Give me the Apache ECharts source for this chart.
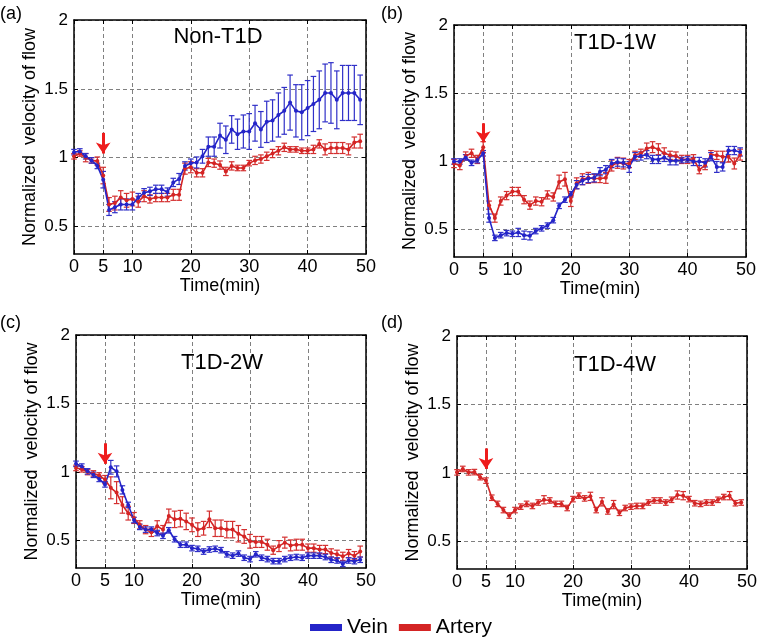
<!DOCTYPE html>
<html>
<head>
<meta charset="utf-8">
<script src="https://cdn.jsdelivr.net/npm/echarts@6/dist/echarts.min.js"></script>
<style>html,body{margin:0;padding:0;background:#fff;}#chart{width:760px;height:642px;}</style>
</head>
<body>
<div id="chart"></div>
<script>
// ---- data ----
const times = Array.from({length: 50}, (_, i) => i); // minutes 0..49
const xTicks = [0, 5, 10, 20, 30, 40, 50];
const yTicks = [0.5, 1, 1.5, 2];
const panelTitles = ['Non-T1D', 'T1D-1W', 'T1D-2W', 'T1D-4W'];
const panelLetters = ['(a)', '(b)', '(c)', '(d)'];
const arrowTime = 5;
const arrowFrom = [1.18, 1.28, 1.21, 1.18];
const arrowTo = [1.03, 1.14, 1.06, 1.03];

const aVein = [1.04,1.045,1.01,0.98,0.94,0.84,0.62,0.64,0.66,0.66,0.66,0.71,0.745,0.755,0.77,0.77,0.75,0.82,0.845,0.94,0.96,0.965,1.01,1.08,1.08,1.16,1.13,1.205,1.17,1.19,1.19,1.25,1.205,1.26,1.27,1.31,1.34,1.40,1.34,1.33,1.36,1.39,1.42,1.47,1.47,1.42,1.47,1.47,1.47,1.42];
const aVeinErr = [0.02,0.02,0.02,0.02,0.02,0.06,0.04,0.04,0.04,0.04,0.04,0.03,0.03,0.03,0.03,0.03,0.03,0.03,0.04,0.03,0.03,0.04,0.05,0.07,0.07,0.09,0.1,0.1,0.11,0.12,0.13,0.13,0.13,0.15,0.15,0.16,0.17,0.2,0.19,0.2,0.2,0.2,0.21,0.21,0.22,0.21,0.2,0.2,0.2,0.18];
const aArt = [1.01,1.03,1.0,0.98,0.975,0.87,0.66,0.67,0.71,0.69,0.70,0.68,0.72,0.70,0.71,0.71,0.71,0.73,0.73,0.92,0.93,0.89,0.89,0.965,0.96,0.946,0.90,0.94,0.925,0.925,0.96,0.98,0.99,1.01,1.03,1.05,1.075,1.06,1.06,1.05,1.05,1.06,1.10,1.06,1.07,1.07,1.07,1.06,1.11,1.12];
const aArtErr = [0.02,0.02,0.03,0.02,0.03,0.06,0.05,0.05,0.05,0.05,0.05,0.04,0.04,0.03,0.03,0.03,0.03,0.04,0.04,0.04,0.04,0.03,0.03,0.03,0.03,0.03,0.03,0.03,0.02,0.02,0.02,0.03,0.03,0.03,0.03,0.03,0.03,0.02,0.02,0.02,0.02,0.03,0.03,0.04,0.04,0.04,0.04,0.04,0.04,0.05];

const bVein = [1.0,1.0,1.03,0.99,1.01,1.06,0.585,0.44,0.46,0.475,0.47,0.48,0.46,0.455,0.49,0.51,0.53,0.57,0.675,0.72,0.76,0.83,0.86,0.875,0.88,0.925,0.94,0.985,0.995,0.99,0.96,1.035,1.04,1.05,1.015,1.015,1.03,1.005,1.005,1.01,1.015,1.0,1.0,0.99,1.035,0.96,0.96,1.08,1.08,1.07];
const bVeinErr = [0.02,0.02,0.02,0.02,0.02,0.02,0.03,0.02,0.02,0.02,0.02,0.03,0.03,0.03,0.02,0.02,0.02,0.02,0.02,0.02,0.02,0.03,0.03,0.03,0.03,0.03,0.03,0.03,0.03,0.03,0.04,0.03,0.03,0.03,0.03,0.03,0.03,0.03,0.03,0.02,0.02,0.03,0.03,0.03,0.03,0.04,0.03,0.03,0.03,0.03];
const bArt = [0.985,0.97,1.04,1.06,1.015,1.105,0.68,0.585,0.71,0.75,0.78,0.78,0.72,0.68,0.71,0.705,0.755,0.74,0.85,0.87,0.71,0.84,0.87,0.88,0.875,0.875,0.88,0.97,0.99,0.985,0.985,1.045,1.06,1.095,1.105,1.09,1.06,1.045,1.04,1.015,1.015,1.02,0.94,0.97,1.05,1.045,1.035,1.035,0.985,1.05];
const bArtErr = [0.03,0.03,0.03,0.03,0.03,0.04,0.03,0.03,0.03,0.03,0.03,0.03,0.03,0.03,0.03,0.03,0.03,0.03,0.05,0.05,0.04,0.04,0.04,0.04,0.03,0.03,0.04,0.04,0.04,0.04,0.03,0.03,0.03,0.04,0.04,0.04,0.04,0.03,0.03,0.03,0.03,0.03,0.03,0.03,0.03,0.03,0.04,0.04,0.04,0.04];

const cVein = [1.06,1.04,1.005,0.98,0.95,0.91,1.035,1.005,0.87,0.76,0.65,0.60,0.58,0.58,0.555,0.535,0.575,0.51,0.47,0.47,0.445,0.44,0.42,0.435,0.44,0.43,0.40,0.39,0.405,0.375,0.365,0.40,0.375,0.365,0.35,0.35,0.365,0.375,0.38,0.375,0.39,0.39,0.39,0.38,0.36,0.355,0.33,0.355,0.35,0.36];
const cVeinErr = [0.02,0.02,0.02,0.02,0.02,0.02,0.05,0.04,0.03,0.02,0.02,0.02,0.02,0.02,0.02,0.02,0.02,0.02,0.02,0.02,0.02,0.02,0.02,0.02,0.02,0.02,0.02,0.02,0.02,0.02,0.02,0.02,0.02,0.02,0.02,0.02,0.02,0.02,0.02,0.02,0.02,0.02,0.02,0.02,0.02,0.02,0.02,0.02,0.02,0.02];
const cArt = [1.03,1.02,1.0,0.99,0.975,0.945,0.885,0.85,0.76,0.70,0.665,0.615,0.58,0.56,0.605,0.58,0.68,0.655,0.66,0.64,0.615,0.58,0.59,0.655,0.59,0.59,0.58,0.58,0.55,0.53,0.495,0.49,0.49,0.47,0.43,0.46,0.485,0.465,0.47,0.47,0.445,0.445,0.435,0.435,0.41,0.40,0.385,0.405,0.39,0.42];
const cArtErr = [0.02,0.02,0.02,0.02,0.02,0.03,0.08,0.08,0.06,0.05,0.04,0.03,0.03,0.03,0.04,0.03,0.05,0.06,0.06,0.06,0.05,0.05,0.05,0.06,0.06,0.06,0.06,0.06,0.06,0.05,0.05,0.04,0.04,0.04,0.03,0.04,0.04,0.04,0.04,0.04,0.03,0.03,0.03,0.03,0.03,0.03,0.03,0.03,0.03,0.04];

const dArt = [1.005,1.03,1.005,1.007,0.97,0.945,0.82,0.775,0.73,0.69,0.73,0.755,0.775,0.76,0.785,0.805,0.80,0.775,0.775,0.745,0.81,0.835,0.815,0.83,0.73,0.79,0.72,0.77,0.71,0.745,0.755,0.76,0.76,0.785,0.80,0.80,0.785,0.805,0.84,0.835,0.81,0.78,0.775,0.785,0.785,0.805,0.825,0.835,0.78,0.785];
const dArtErr = [0.02,0.02,0.02,0.02,0.02,0.02,0.02,0.02,0.02,0.02,0.02,0.02,0.02,0.02,0.02,0.03,0.02,0.02,0.02,0.02,0.02,0.02,0.02,0.03,0.02,0.03,0.02,0.03,0.02,0.02,0.02,0.02,0.02,0.02,0.02,0.02,0.02,0.02,0.03,0.03,0.02,0.02,0.02,0.02,0.02,0.02,0.02,0.03,0.02,0.02];

// ---- layout / styling ----
const FONT = 'Liberation Sans, Arial, sans-serif';
const BLUE = '#2424c8';
const BLUE_ERR = '#3030c8';
const RED = '#d42424';
const RED_ERR = '#d43030';
const ARROW = '#ee1c1c';

const grids = [
  {left: 74, top: 20, width: 292, height: 234},
  {left: 454, top: 25, width: 292, height: 232},
  {left: 76, top: 335, width: 290, height: 233},
  {left: 457, top: 336, width: 291, height: 233}
];

const panels = [
  {vein: aVein, veinErr: aVeinErr, art: aArt, artErr: aArtErr},
  {vein: bVein, veinErr: bVeinErr, art: bArt, artErr: bArtErr},
  {vein: cVein, veinErr: cVeinErr, art: cArt, artErr: cArtErr},
  {vein: null, veinErr: null, art: dArt, artErr: dArtErr}
];

const gridLine = {show: true, lineStyle: {color: '#808080', type: [4, 3], width: 1}};

const xAxes = [], yAxes = [];
grids.forEach((g, i) => {
  xAxes.push({
    type: 'value', gridIndex: i, min: 0, max: 50, position: 'bottom',
    name: 'Time(min)', nameLocation: 'middle', nameGap: 21,
    nameTextStyle: {fontFamily: FONT, fontSize: 18, color: '#000'},
    axisLine: {show: true, onZero: false, lineStyle: {color: '#000', width: 1.5}},
    axisTick: {show: true, inside: true, length: 4, customValues: xTicks, lineStyle: {color: '#000'}},
    axisLabel: {show: true, customValues: xTicks, fontFamily: FONT, fontSize: 18, color: '#000', margin: 4},
    splitLine: gridLine
  });
  yAxes.push({
    type: 'value', gridIndex: i, min: 0.3, max: 2, position: 'left',
    name: 'Normalized  velocity of flow', nameLocation: 'middle', nameGap: 35, nameRotate: 90,
    nameTextStyle: {fontFamily: FONT, fontSize: 18, color: '#000'},
    axisLine: {show: true, onZero: false, lineStyle: {color: '#000', width: 1.5}},
    axisTick: {show: true, inside: true, length: 4, customValues: yTicks, lineStyle: {color: '#000'}},
    axisLabel: {show: true, customValues: yTicks, fontFamily: FONT, fontSize: 17, color: '#000', margin: 6,
      formatter: v => String(v)},
    splitLine: gridLine
  });
});
grids.forEach((g, i) => {
  xAxes.push({
    type: 'value', gridIndex: i, min: 0, max: 50, position: 'top',
    axisLine: {show: true, onZero: false, lineStyle: {color: '#000', width: 1.5}},
    axisTick: {show: true, inside: true, length: 4, customValues: xTicks, lineStyle: {color: '#000'}},
    axisLabel: {show: false}, splitLine: {show: false}
  });
  yAxes.push({
    type: 'value', gridIndex: i, min: 0.3, max: 2, position: 'right',
    axisLine: {show: true, onZero: false, lineStyle: {color: '#000', width: 1.5}},
    axisTick: {show: true, inside: true, length: 4, customValues: yTicks, lineStyle: {color: '#000'}},
    axisLabel: {show: false}, splitLine: {show: false}
  });
});

function errData(mean, err) {
  return times.map((t, k) => [t, mean[k] - err[k], mean[k] + err[k]]);
}
function errSeries(i, mean, err, color, name) {
  return {
    type: 'custom', name: name, xAxisIndex: i, yAxisIndex: i, silent: true, z: 3,
    data: errData(mean, err),
    encode: {x: 0, y: [1, 2]},
    renderItem: function (params, api) {
      const x = api.value(0);
      const lo = api.coord([x, api.value(1)]);
      const hi = api.coord([x, api.value(2)]);
      const w = 2.8;
      const st = {stroke: color, lineWidth: 1.2};
      return {type: 'group', children: [
        {type: 'line', shape: {x1: lo[0], y1: lo[1], x2: hi[0], y2: hi[1]}, style: st},
        {type: 'line', shape: {x1: lo[0] - w, y1: lo[1], x2: lo[0] + w, y2: lo[1]}, style: st},
        {type: 'line', shape: {x1: hi[0] - w, y1: hi[1], x2: hi[0] + w, y2: hi[1]}, style: st}
      ]};
    }
  };
}
function lineSeries(i, mean, color, name) {
  return {
    type: 'line', name: name, xAxisIndex: i, yAxisIndex: i, z: 4,
    data: times.map((t, k) => [t, mean[k]]),
    symbol: 'circle', symbolSize: 4, showSymbol: true,
    lineStyle: {color: color, width: 1.6},
    itemStyle: {color: color},
    emphasis: {disabled: true},
    animation: false
  };
}
function arrowSeries(i) {
  return {
    type: 'line', name: 'arrow', xAxisIndex: i, yAxisIndex: i, data: [], symbol: 'none', z: 5,
    markLine: {
      silent: true, symbol: ['none', 'arrow'], symbolSize: [11, 11],
      label: {show: false},
      lineStyle: {color: ARROW, width: 3, type: 'solid'},
      data: [[{coord: [arrowTime, arrowFrom[i]]}, {coord: [arrowTime, arrowTo[i]]}]],
      animation: false
    }
  };
}

const series = [];
panels.forEach((p, i) => {
  series.push(errSeries(i, p.art, p.artErr, RED_ERR, 'Artery err'));
  if (p.vein) series.push(errSeries(i, p.vein, p.veinErr, BLUE_ERR, 'Vein err'));
  series.push(lineSeries(i, p.art, RED, 'Artery'));
  if (p.vein) series.push(lineSeries(i, p.vein, BLUE, 'Vein'));
  series.push(arrowSeries(i));
});

const titles = [];
const titleCenters = [[213, 21], [610, 27], [217, 347], [610, 349]];
panelTitles.forEach((t, i) => {
  titles.push({text: t, left: titleCenters[i][0], top: titleCenters[i][1], textAlign: 'center',
    textStyle: {fontFamily: FONT, fontSize: 22, fontWeight: 'normal', color: '#000'}});
});
const letterPos = [[0, 5], [381, 5], [0, 314], [381, 314]];
panelLetters.forEach((t, i) => {
  titles.push({text: t, left: letterPos[i][0], top: letterPos[i][1], padding: 0,
    textStyle: {fontFamily: FONT, fontSize: 18, fontWeight: 'normal', color: '#000'}});
});

const chart = echarts.init(document.getElementById('chart'), null, {renderer: 'canvas'});
chart.setOption({
  backgroundColor: '#fff',
  animation: false,
  title: titles,
  legend: {
    data: ['Vein', 'Artery'], left: 310, top: 617, icon: 'rect', itemWidth: 32, itemHeight: 7,
    itemGap: 11, padding: 0,
    textStyle: {fontFamily: FONT, fontSize: 21, color: '#000'}
  },
  grid: grids,
  xAxis: xAxes,
  yAxis: yAxes,
  series: series
});
</script>
</body>
</html>
